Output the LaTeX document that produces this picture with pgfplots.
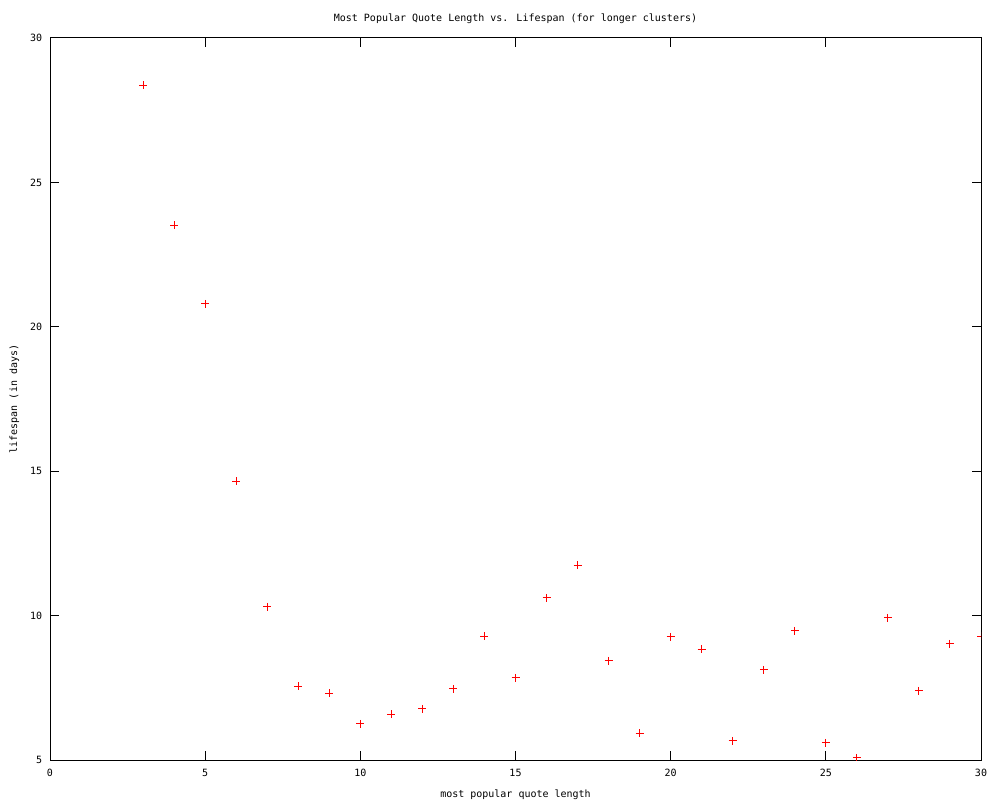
\documentclass[border=0pt]{standalone}
\usepackage{fontspec}
\setmainfont{DejaVu Sans Mono}
\usepackage{pgfplots}
\pgfplotsset{compat=1.18}
\begin{document}
\fontsize{5}{6}\selectfont
\begin{tikzpicture}
\begin{axis}[
  scale only axis,
  width=465.5pt, height=361pt,
  xmin=0, xmax=30, ymin=5, ymax=30,
  xtick={0,5,...,30}, ytick={5,10,...,30},
  minor tick num=0,
  tick align=inside,
  major tick length=4.5pt,
  axis line style={line width=0.5pt},
  every tick/.style={black, line width=0.5pt},
  /pgf/number format/assume math mode=true,
  tick label style={font=\fontsize{5}{6}\selectfont},
  xticklabel style={yshift=-2.5pt},
  yticklabel style={xshift=-2pt},
  title={Most Popular Quote Length vs. Lifespan (for longer clusters)},
  title style={font=\fontsize{5}{6}\selectfont, yshift=-0.5pt},
  xlabel={most popular quote length},
  ylabel={lifespan (in days)},
  label style={font=\fontsize{5}{6}\selectfont},
  xlabel style={yshift=-3pt},
  ylabel style={yshift=2pt},
  clip marker paths=true,
]
\addplot[only marks, mark=+, mark size=2pt, red, line width=0.5pt] coordinates {
(3,28.37) (4,23.52) (5,20.79) (6,14.66) (7,10.30) (8,7.56) (9,7.32) (10,6.25)
(11,6.59) (12,6.77) (13,7.46) (14,9.29) (15,7.84) (16,10.61) (17,11.75) (18,8.43)
(19,5.93) (20,9.26) (21,8.84) (22,5.66) (23,8.12) (24,9.47) (25,5.59) (26,5.07)
(27,9.92) (28,7.39) (29,9.02) (30,9.29)
};
\end{axis}
\path ([shift={(-25pt,-20pt)}]current axis.south west) rectangle ([shift={(475pt,380pt)}]current axis.south west);
\end{tikzpicture}
\end{document}
